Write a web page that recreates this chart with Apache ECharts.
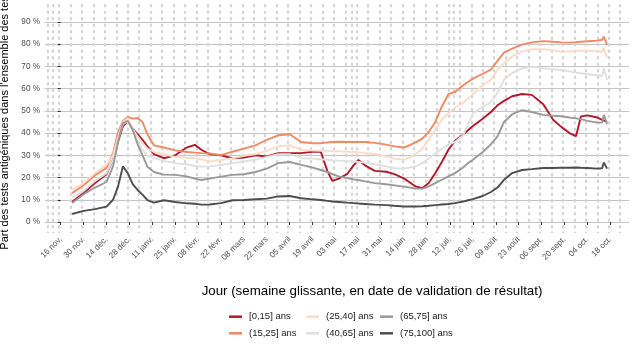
<!DOCTYPE html>
<html>
<head>
<meta charset="utf-8">
<script src="https://cdn.jsdelivr.net/npm/echarts@6/dist/echarts.min.js"></script>
<style>
  html, body { margin: 0; padding: 0; background: #fff; }
  #chart { width: 635px; height: 353px; }
</style>
</head>
<body>
<div id="chart"></div>
<script>
// jour 0 = 16 nov. 2020 (premier libellé de l'axe)
const startDay = '2020-11-16';

const dates = ['2020-11-23','2020-11-30','2020-12-07','2020-12-14','2020-12-18','2020-12-21','2020-12-24','2020-12-27','2020-12-30',
  '2021-01-02','2021-01-05','2021-01-08','2021-01-12','2021-01-18','2021-01-25','2021-02-01','2021-02-06','2021-02-10','2021-02-15',
  '2021-02-22','2021-03-01','2021-03-08','2021-03-15','2021-03-22','2021-03-29','2021-04-05','2021-04-12','2021-04-19','2021-04-24',
  '2021-04-28','2021-05-01','2021-05-05','2021-05-10','2021-05-14','2021-05-17','2021-05-21','2021-05-27','2021-06-03','2021-06-08',
  '2021-06-14','2021-06-21','2021-06-25','2021-06-29','2021-07-03','2021-07-07','2021-07-11','2021-07-15','2021-07-20','2021-07-23',
  '2021-07-26','2021-08-01','2021-08-06','2021-08-10','2021-08-14','2021-08-19','2021-08-25','2021-08-31','2021-09-07','2021-09-13',
  '2021-09-18','2021-09-23','2021-09-27','2021-09-30','2021-10-04','2021-10-10','2021-10-13','2021-10-14','2021-10-16'];

const age0_15 = [9.1,13,17.5,21.5,28,36,43,45.5,42,39.5,37,34,30.5,28.7,30,33.5,34.7,32.5,30.5,30,28.7,29,30,29.5,31,31,31,31.6,31.6,
  23,18.5,19.5,21.5,25.5,27.9,25.5,23,22.6,21.5,19.5,16,15.2,17.5,22,27,32.5,36.5,39.3,41.3,43.2,46.5,49.5,52.5,54.5,56.6,57.6,57.2,
  53,46,42.8,40,38.6,47.5,48,47,46,46.5,45];
const age15_25 = [13,16.5,21,24.3,31,40,45.5,47.3,46.5,46.8,45,39.5,34.5,33.5,32.2,31.5,31.2,31,30.8,30.1,31.6,33,34.5,37,39,39.5,36,
  35.4,35.4,35.8,36,36.1,36,36,36,36,35.6,34.8,34,33.5,35.8,37.5,40.5,45,52,57.5,58.5,61.5,63,64.5,66.7,68.6,72.5,76.2,78,79.8,80.8,
  81.4,81.1,80.8,80.7,80.9,81.1,81.3,81.6,82,83.4,79.7];
const age25_40 = [14.4,17.5,22,25.7,30,38,45,46.7,42,38.5,35.5,33,31.5,30.5,29.3,28.9,28.7,28.2,27.3,27.9,28.7,29.8,30.5,32,34,34.5,
  32.4,32.2,32,32,31.8,31.8,31.6,31.5,31.3,31,30.6,29.5,28.5,28,30.5,33,37,41.5,46,49,51.5,53.5,55.5,57.5,61.5,64,68.5,71.5,74.5,
  76.8,77.7,77.8,77.3,76.6,76.8,77.1,77,77.1,76.8,76.6,78.2,74.1];
const age40_65 = [11,14,18.5,22,28,37,44,45.5,41,36.5,32.5,30,28.8,27.5,26.5,26,25.2,24.9,25,25.7,26.4,27.2,28,29.3,30.5,30.5,28.7,
  28.5,28.2,28,27.8,27.6,27.4,27.2,27,26.7,26,25,24.2,24,25,26.5,28.5,31,33,34.7,36,39,44,48.9,51.8,54,58,64,67,69.2,69.9,69.2,68.8,
  68.4,67.8,67.2,66.9,66.5,66,65.7,69.2,63.9];
const age65_75 = [8.5,12.5,15.5,18,25,36,44.5,45.5,41.5,35,30,24.9,22.5,21.3,21.2,20.5,19.5,18.9,19.5,20.4,21.2,21.5,22.5,24,26.5,27,
  25.7,24.5,23.4,22.5,21.5,20.5,19.8,19.2,18.9,18.3,17.5,17,16.5,15.9,15,15,16,17.5,19,20.5,22,24.5,26.5,28,31.5,35,38.5,45,48.5,
  50.3,49.5,48.2,47.8,47.6,47,46.6,46.3,45.5,44.7,44.7,48.2,44.1];
const age75_100 = [3.6,5,5.8,6.9,10,15.8,25,22,17,14.4,12.3,9.8,8.7,9.8,9,8.4,8.2,7.8,7.9,8.5,9.8,9.9,10.2,10.5,11.5,11.7,10.7,10.2,
  9.9,9.5,9.2,9,8.7,8.5,8.3,8.1,7.8,7.6,7.3,7,7,7.1,7.3,7.6,7.9,8.1,8.5,9.2,9.8,10.3,11.7,13.5,15.5,19,22,23.4,23.8,24.3,24.3,24.4,
  24.4,24.5,24.4,24.3,24,24.2,26.8,24];

const seriesNames = ['[0,15] ans', '(15,25] ans', '(25,40] ans', '(40,65] ans', '(65,75] ans', '(75,100] ans'];
const seriesValues = [age0_15, age15_25, age25_40, age40_65, age65_75, age75_100];
const seriesColors = ['#b2182b', '#ef8a62', '#fddbc7', '#e0e0e0', '#999999', '#4d4d4d'];

const tickLabels = ['16 nov.', '30 nov.', '14 déc.', '28 déc.', '11 janv.', '25 janv.', '08 févr.', '22 févr.', '08 mars',
  '22 mars', '05 avril', '19 avril', '03 mai', '17 mai', '31 mai', '14 juin', '28 juin', '12 juil.', '26 juil.', '09 août',
  '23 août', '06 sept.', '20 sept.', '04 oct.', '18 oct.'];
const yTicks = [0, 10, 20, 30, 40, 50, 60, 70, 80, 90];
const holidays = ['2020-11-11', '2021-05-13', '2021-07-14'];

function dayOf(s) {
  return Math.round((Date.parse(s) - Date.parse(startDay)) / 86400000);
}

const xMin = -9.6, xMax = 347.4;
const labelDays = tickLabels.map((_, i) => i * 14);
// lignes pointillées : chaque dimanche + jours fériés
const weekLines = [];
for (let d = -8; d <= xMax; d += 7) weekLines.push(d);
holidays.forEach(h => weekLines.push(dayOf(h)));
weekLines.sort((a, b) => a - b);

const font = "'Liberation Sans', Arial, sans-serif";
var myChart = echarts.init(document.getElementById('chart'));

const series = seriesNames.map((name, k) => ({
  name: name,
  type: 'line',
  xAxisIndex: 0,
  yAxisIndex: 0,
  showSymbol: false,
  symbol: 'none',
  lineStyle: { width: 1.9, color: seriesColors[k] },
  itemStyle: { color: seriesColors[k] },
  data: dates.map((d, i) => [dayOf(d), seriesValues[k][i]])
}));

const legendLefts = [229, 306, 380];
const legends = legendLefts.map((left, c) => ({
  data: [seriesNames[c * 2], seriesNames[c * 2 + 1]],
  orient: 'vertical',
  left: left,
  top: 310.7,
  padding: 0,
  itemGap: 4.6,
  itemWidth: 13,
  itemHeight: 2.5,
  icon: 'rect',
  selectedMode: false,
  textStyle: { fontFamily: font, fontSize: 9.5, color: '#1a1a1a', lineHeight: 12, padding: [0, 0, 0, 2] }
}));

var option = {
  animation: false,
  backgroundColor: '#fff',
  textStyle: { fontFamily: font },
  grid: { left: 45, right: 6, top: 4.2, bottom: 119.9, containLabel: false, outerBoundsMode: 'none' },
  legend: legends,
  xAxis: [
    {
      type: 'value',
      min: xMin,
      max: xMax,
      position: 'bottom',
      name: 'Jour (semaine glissante, en date de validation de résultat)',
      nameLocation: 'middle',
      nameGap: 52,
      nameTextStyle: { fontFamily: font, fontSize: 13.3, color: '#000', padding: [0, 0, 0, 70] },
      axisLine: { show: false },
      axisTick: { show: true, length: 3, customValues: labelDays, lineStyle: { color: '#333', width: 1 } },
      axisLabel: {
        customValues: labelDays,
        rotate: 45,
        margin: 5,
        fontSize: 8.2,
        color: '#4d4d4d',
        formatter: v => tickLabels[Math.round(v / 14)]
      },
      splitLine: { show: false }
    },
    {
      type: 'value',
      min: xMin,
      max: xMax,
      position: 'bottom',
      axisLine: { show: false },
      axisLabel: { show: false },
      axisTick: { show: false, customValues: weekLines },
      splitLine: { show: true, lineStyle: { type: [3, 3.5], width: 2.2, color: '#d4d4d4' } }
    }
  ],
  yAxis: {
    type: 'value',
    min: -5,
    max: 98,
    name: "Part des tests antigéniques dans l'ensemble des tests",
    nameLocation: 'middle',
    nameGap: 28,
    nameTextStyle: { fontFamily: font, fontSize: 11, color: '#000' },
    axisLine: { show: false },
    axisTick: { show: true, length: 3, customValues: yTicks, lineStyle: { color: '#333', width: 1 } },
    axisLabel: { customValues: yTicks, margin: 5, fontSize: 8.2, color: '#4d4d4d', formatter: v => v + ' %' },
    splitLine: { show: true, lineStyle: { color: '#c4c4c4', width: 1.2 } }
  },
  series: series
};

myChart.setOption(option);
</script>
</body>
</html>
